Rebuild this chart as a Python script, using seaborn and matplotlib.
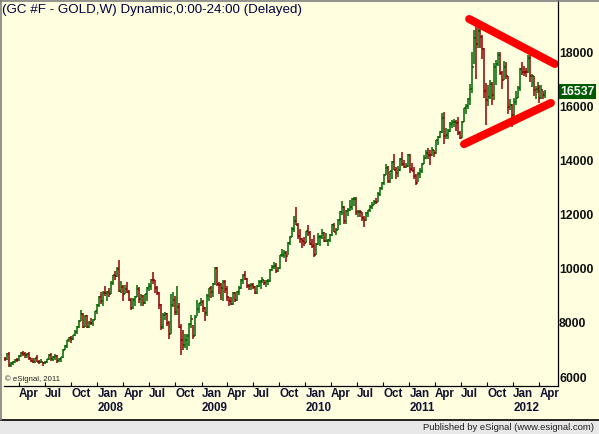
import matplotlib
matplotlib.use("Agg")
import matplotlib.pyplot as plt
from matplotlib.lines import Line2D
from matplotlib.patches import Rectangle
import pandas as pd
import seaborn as sns

# weekly bars of GC #F, one per week starting Monday 2007-02-12 (prices in $)
first_week = "2007-02-12"

high = [
    # 2007
    673, 690, 692, 656, 660, 668, 670, 680, 692, 696, 692, 690, 692, 672, 670, 672,
    681, 663, 667, 656, 660, 668, 685, 690, 678, 685, 680, 672, 675, 702, 718, 738,
    748, 750, 756, 772, 790, 812, 848, 836, 830, 828, 805, 818, 815, 845, 868,
    # 2008
    900, 915, 918, 935, 918, 930, 954, 978, 992, 1005, 1033, 955, 938, 938, 952, 920,
    890, 890, 899, 938, 932, 907, 903, 907, 932, 948, 962, 988, 960, 935, 915, 868,
    838, 840, 835, 805, 905, 915, 900, 935, 875, 795, 775, 760, 760, 800, 828, 792,
    830, 885, 875, 890,
    # 2009
    885, 860, 905, 930, 935, 948, 1007, 1005, 950, 948, 960, 960, 935, 895, 896, 915,
    915, 918, 935, 963, 980, 990, 965, 942, 948, 947, 935, 940, 957, 960, 970, 960,
    958, 962, 998, 1012, 1025, 1020, 1008, 1052, 1071, 1070, 1066, 1100, 1120, 1153,
    1196, 1227, 1170, 1145, 1115, 1118,
    # 2010
    1140, 1162, 1140, 1110, 1125, 1095, 1130, 1125, 1145, 1137, 1130, 1110, 1128, 1166,
    1170, 1152, 1182, 1212, 1249, 1232, 1217, 1225, 1253, 1262, 1266, 1263, 1215, 1218,
    1210, 1195, 1210, 1218, 1235, 1245, 1255, 1260, 1285, 1300, 1320, 1350, 1388, 1380,
    1360, 1398, 1424, 1375, 1380, 1410, 1432, 1400, 1392, 1425,
    # 2011
    1425, 1390, 1376, 1350, 1357, 1370, 1392, 1418, 1440, 1445, 1438, 1448, 1440, 1477,
    1490, 1510, 1575, 1577, 1520, 1515, 1540, 1548, 1552, 1550, 1560, 1510, 1545, 1595,
    1610, 1632, 1682, 1800, 1880, 1917, 1890, 1900, 1862, 1815, 1685, 1680, 1695, 1688,
    1760, 1770, 1802, 1800, 1730, 1767, 1764, 1710, 1625, 1610,
    # 2012
    1630, 1655, 1675, 1740, 1765, 1750, 1740, 1790, 1792, 1720, 1712, 1674, 1690, 1680,
    1680, 1655, 1660,
]

low = [
    # 2007
    658, 664, 636, 636, 643, 651, 655, 660, 674, 678, 672, 670, 664, 656, 652, 652,
    655, 647, 650, 642, 648, 652, 664, 660, 660, 662, 650, 655, 657, 672, 700, 708,
    728, 726, 735, 752, 760, 780, 808, 780, 783, 780, 782, 792, 790, 812, 834,
    # 2008
    857, 870, 862, 900, 880, 897, 905, 940, 958, 968, 915, 912, 880, 905, 910, 880,
    846, 852, 862, 895, 874, 862, 862, 870, 880, 918, 920, 945, 912, 902, 850, 775,
    778, 810, 790, 740, 760, 860, 830, 830, 780, 681, 698, 707, 700, 715, 780, 740,
    750, 825, 835, 862,
    # 2009
    840, 805, 825, 882, 890, 895, 940, 935, 905, 886, 880, 912, 880, 863, 865, 866,
    876, 882, 903, 925, 944, 960, 930, 921, 922, 925, 905, 907, 932, 924, 948, 938,
    933, 938, 950, 990, 1000, 985, 987, 1000, 1044, 1040, 1025, 1050, 1089, 1118,
    1135, 1160, 1110, 1096, 1075, 1085,
    # 2010
    1095, 1120, 1088, 1075, 1045, 1050, 1087, 1085, 1110, 1100, 1098, 1085, 1100, 1120,
    1135, 1125, 1143, 1160, 1200, 1165, 1165, 1195, 1213, 1218, 1230, 1200, 1190, 1190,
    1175, 1155, 1175, 1190, 1210, 1220, 1235, 1240, 1245, 1270, 1290, 1310, 1345, 1315,
    1315, 1330, 1365, 1330, 1338, 1360, 1380, 1370, 1370, 1375,
    # 2011
    1355, 1360, 1330, 1309, 1320, 1335, 1355, 1385, 1405, 1405, 1382, 1415, 1411, 1425,
    1455, 1482, 1500, 1462, 1478, 1478, 1505, 1520, 1525, 1510, 1495, 1478, 1482, 1540,
    1570, 1590, 1605, 1650, 1755, 1702, 1815, 1815, 1775, 1630, 1532, 1600, 1627, 1604,
    1622, 1680, 1750, 1715, 1665, 1695, 1700, 1570, 1585, 1523,
    # 2012
    1560, 1605, 1630, 1655, 1715, 1710, 1708, 1722, 1690, 1670, 1636, 1627, 1650, 1612,
    1628, 1628, 1630,
]

close = [
    # 2007
    666, 686, 645, 652, 655, 663, 663, 678, 690, 686, 680, 685, 670, 660, 657, 670,
    657, 655, 656, 650, 656, 666, 683, 666, 673, 678, 658, 667, 673, 700, 715, 735,
    745, 740, 755, 765, 785, 808, 833, 785, 825, 783, 800, 798, 812, 842, 866,
    # 2008
    897, 882, 910, 910, 915, 907, 948, 975, 972, 1000, 918, 933, 906, 925, 915, 885,
    855, 885, 895, 925, 887, 900, 872, 905, 930, 935, 960, 957, 928, 912, 865, 785,
    830, 832, 800, 760, 865, 885, 840, 860, 785, 737, 718, 735, 750, 795, 815, 752,
    823, 850, 872, 878,
    # 2009
    854, 838, 898, 928, 915, 943, 1001, 942, 940, 929, 952, 925, 895, 882, 870, 910,
    886, 915, 930, 958, 978, 962, 937, 935, 940, 932, 912, 937, 951, 955, 957, 948,
    953, 955, 996, 1007, 1011, 991, 1003, 1050, 1052, 1057, 1046, 1096, 1118, 1146,
    1176, 1161, 1120, 1111, 1104, 1096,
    # 2010
    1138, 1131, 1090, 1083, 1051, 1093, 1117, 1118, 1133, 1102, 1104, 1105, 1125, 1161,
    1136, 1143, 1179, 1209, 1228, 1177, 1212, 1218, 1226, 1256, 1257, 1208, 1210, 1208,
    1189, 1181, 1204, 1215, 1227, 1237, 1247, 1246, 1275, 1297, 1318, 1346, 1372, 1325,
    1359, 1394, 1366, 1352, 1363, 1406, 1385, 1377, 1380, 1421,
    # 2011
    1369, 1361, 1342, 1318, 1348, 1360, 1388, 1410, 1429, 1421, 1418, 1437, 1429, 1474,
    1486, 1504, 1556, 1491, 1493, 1510, 1536, 1542, 1543, 1539, 1501, 1483, 1542, 1592,
    1602, 1628, 1663, 1744, 1852, 1828, 1876, 1856, 1813, 1658, 1624, 1635, 1682, 1642,
    1745, 1755, 1788, 1724, 1696, 1746, 1710, 1598, 1606, 1566,
    # 2012
    1617, 1631, 1666, 1739, 1725, 1725, 1725, 1777, 1711, 1712, 1659, 1662, 1669, 1631,
    1659, 1642, 1653.7,
]

# red trendlines drawn on the chart (date, price in $)
upper_dates = ["2011-07-30", "2012-05-26"]
upper_prices = [1922, 1756]
lower_dates = ["2011-07-12", "2012-05-12"]
lower_prices = [1460, 1612]

y_ticks = [6000, 8000, 10000, 12000, 14000, 16000, 18000]
tick_months = pd.date_range("2007-04-01", "2012-04-01", freq="QS")

title = "(GC #F - GOLD,W) Dynamic,0:00-24:00 (Delayed)"
footer = "Published by eSignal (www.esignal.com)"
copyright_note = "\u00a9 eSignal, 2011"

BG = "#FFFFE0"
UP = "#006400"
DOWN = "#8B0000"
SCALE = 10  # eSignal quotes gold in tenths here

sns.set_theme(style="white", rc={"axes.facecolor": BG, "figure.facecolor": BG})
plt.rcParams["font.family"] = ["Liberation Sans", "DejaVu Sans"]

df = pd.DataFrame({"high": high, "low": low, "close": close})
df["week"] = pd.date_range(first_week, periods=len(df), freq="7D")
df["open"] = df["close"].shift(1).fillna(df["close"])
df["color"] = [UP if c > o else DOWN for c, o in zip(df["close"], df["open"])]

fig = plt.figure(figsize=(5.99, 4.34), dpi=100)
W, H = 599, 434
ax = fig.add_axes([4 / W, 48 / H, 554 / W, 386 / H])

half = pd.Timedelta(days=3.5)
ax.vlines(df["week"], df["low"] * SCALE, df["high"] * SCALE, colors=df["color"], lw=1.1)
ax.hlines(df["open"] * SCALE, df["week"] - half, df["week"], colors=df["color"], lw=1.1)
ax.hlines(df["close"] * SCALE, df["week"], df["week"] + half, colors=df["color"], lw=1.1)

for d, p in [(upper_dates, upper_prices), (lower_dates, lower_prices)]:
    tl = pd.DataFrame({"date": pd.to_datetime(d), "price": [v * SCALE for v in p]})
    sns.lineplot(data=tl, x="date", y="price", ax=ax, color="#FF0000", lw=5.8,
                 solid_capstyle="round")

ax.set_xlim(pd.Timestamp("2007-02-07"), pd.Timestamp("2012-06-06"))
ax.set_ylim(5668, 19922)
ax.set_xlabel("")
ax.set_ylabel("")

labels = [d.strftime("%b") + ("\n" + d.strftime("%Y") if d.month == 1 else "")
          for d in tick_months]
ax.set_xticks(tick_months)
ax.set_xticklabels(labels, ha="left", fontsize=8.4, fontweight="bold",
                   color="#101030", linespacing=1.25)
ax.tick_params(axis="x", direction="in", length=3, width=0.8, pad=1.5,
               color="black", bottom=True)

ax.yaxis.tick_right()
ax.set_yticks(y_ticks)
ax.set_yticklabels([str(v) for v in y_ticks], fontsize=8.8, fontweight="bold",
                   color="#101010")
ax.tick_params(axis="y", length=0, pad=0.8)

for side in ["top", "left"]:
    ax.spines[side].set_visible(False)
for side in ["bottom", "right"]:
    ax.spines[side].set_color("black")
    ax.spines[side].set_linewidth(0.9)

# last price box
last = df["close"].iloc[-1] * SCALE
ax.annotate(f"{last:.0f}", xy=(1, last), xycoords=("axes fraction", "data"),
            xytext=(1.5, 0), textcoords="offset points", ha="left", va="center",
            fontsize=8.8, fontweight="bold", color="white",
            bbox=dict(boxstyle="square,pad=0.1", fc="#005A00", ec="none"))

ax.text(1 / 554, 7 / 386, copyright_note, transform=ax.transAxes, fontsize=5.6,
        va="center", ha="left", color="#202020")

fig.text(2 / W, 1 - 10 / H, title, fontsize=9.6, color="#000040", va="center",
         ha="left")

# footer strip and frame
fig.add_artist(Rectangle((0, 0), 1, 14.5 / H, transform=fig.transFigure,
                         fc="#E8E8E8", ec="none"))
fig.add_artist(Line2D([0, 1], [14.5 / H, 14.5 / H], transform=fig.transFigure,
                      color="black", lw=1.2))
fig.add_artist(Line2D([0.5 / W, 0.5 / W], [14.5 / H, 1], transform=fig.transFigure,
                      color="#808080", lw=1.2))
fig.add_artist(Line2D([0, 1], [1 - 0.5 / H, 1 - 0.5 / H], transform=fig.transFigure,
                      color="#808080", lw=1.2))
fig.text(594 / W, 7 / H, footer, fontsize=6.8, ha="right", va="center",
         color="#202020")

fig.savefig("out.png", dpi=100, facecolor=BG)
